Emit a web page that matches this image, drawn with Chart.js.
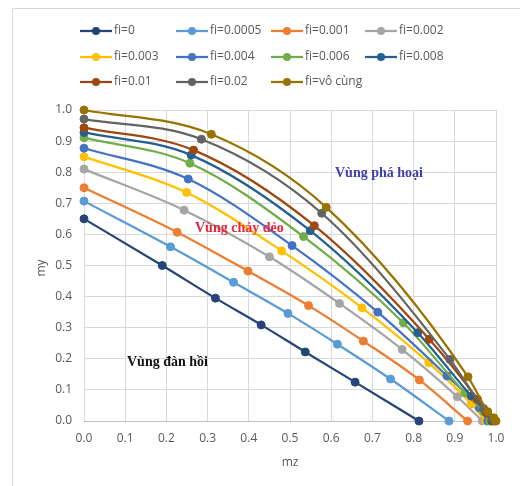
<!DOCTYPE html>
<html>
<head>
<meta charset="utf-8">
<script src="https://cdn.jsdelivr.net/npm/chart.js@4"></script>
<style>
  html, body { margin: 0; padding: 0; background: #fff; }
  #wrap { width: 520px; height: 486px; }
</style>
</head>
<body>
<div id="wrap"><canvas id="grafico" width="520" height="486"></canvas></div>
<script>
// datos
const series = ["fi=0", "fi=0.0005", "fi=0.001", "fi=0.002", "fi=0.003", "fi=0.004",
                "fi=0.006", "fi=0.008", "fi=0.01", "fi=0.02", "fi=vô cùng"];
const colores = ["#264478", "#5B9BD5", "#ED7D31", "#A5A5A5", "#FFC000", "#4472C4",
                 "#70AD47", "#255E91", "#9E480E", "#636363", "#997300"];

const mz = [
  [0, 0.19, 0.319, 0.43, 0.537, 0.658, 0.813],
  [0, 0.21, 0.363, 0.495, 0.615, 0.744, 0.886],
  [0, 0.226, 0.398, 0.545, 0.678, 0.814, 0.931],
  [0, 0.243, 0.45, 0.62, 0.772, 0.906, 0.967],
  [0, 0.249, 0.48, 0.675, 0.837, 0.94, 0.975],
  [0, 0.253, 0.505, 0.713, 0.881, 0.96, 0.98],
  [0, 0.257, 0.533, 0.775, 0.925, 0.97, 0.985],
  [0, 0.26, 0.549, 0.81, 0.94, 0.975, 0.99],
  [0, 0.266, 0.559, 0.838, 0.955, 0.977, 0.993],
  [0, 0.285, 0.577, 0.888, 0.97, 0.99, 0.997],
  [0, 0.309, 0.588, 0.932, 0.98, 0.995, 1.0]
];
const my = [
  [0.65, 0.50, 0.395, 0.309, 0.222, 0.125, 0],
  [0.707, 0.56, 0.446, 0.346, 0.247, 0.135, 0],
  [0.75, 0.607, 0.482, 0.371, 0.257, 0.132, 0],
  [0.81, 0.678, 0.528, 0.378, 0.23, 0.078, 0],
  [0.85, 0.735, 0.547, 0.364, 0.187, 0.055, 0],
  [0.877, 0.778, 0.564, 0.35, 0.145, 0.042, 0],
  [0.911, 0.829, 0.593, 0.316, 0.09, 0.03, 0],
  [0.928, 0.855, 0.612, 0.284, 0.08, 0.03, 0],
  [0.943, 0.871, 0.628, 0.263, 0.07, 0.026, 0],
  [0.971, 0.906, 0.668, 0.198, 0.04, 0.01, 0],
  [1.0, 0.922, 0.687, 0.142, 0.03, 0.01, 0]
];

const zonas = [
  { texto: "Vùng phá hoại", x: 335, y: 173, color: "#3F3FA8" },
  { texto: "Vùng chảy dẻo", x: 195, y: 228, color: "#E8283F" },
  { texto: "Vùng đàn hồi", x: 127, y: 362, color: "#111111" }
];

const fuente = "'Open Sans', 'Liberation Sans', sans-serif";
const gris = "#595959";

const datasets = series.map((nombre, i) => ({
  label: nombre,
  data: mz[i].map((v, k) => ({ x: v, y: my[i][k] })),
  borderColor: colores[i],
  backgroundColor: colores[i],
  pointBackgroundColor: colores[i],
  pointBorderColor: colores[i],
  borderWidth: 2.25,
  pointRadius: 4,
  pointBorderWidth: 1,
  cubicInterpolationMode: "monotone",
  clip: false,
  order: series.length - i
}));

// leyenda en rejilla y textos de zonas
const extras = {
  id: "extras",
  beforeDraw(chart) {
    const ctx = chart.ctx;
    ctx.save();
    ctx.fillStyle = "#fff";
    ctx.fillRect(0, 0, chart.width, chart.height);
    ctx.strokeStyle = "#D9D9D9";
    ctx.lineWidth = 1;
    ctx.beginPath();
    ctx.moveTo(12.5, 486);
    ctx.lineTo(12.5, 8.5);
    ctx.lineTo(520, 8.5);
    ctx.stroke();
    ctx.restore();
  },
  afterDraw(chart) {
    const ctx = chart.ctx;
    ctx.save();
    const colX = [80, 176, 271, 365];
    const filaY = [31, 57, 82];
    ctx.font = "12px " + fuente;
    ctx.textBaseline = "middle";
    series.forEach((nombre, i) => {
      const x = colX[i % 4];
      const y = filaY[Math.floor(i / 4)];
      ctx.strokeStyle = colores[i];
      ctx.lineWidth = 2.25;
      ctx.beginPath();
      ctx.moveTo(x, y);
      ctx.lineTo(x + 32, y);
      ctx.stroke();
      ctx.fillStyle = colores[i];
      ctx.beginPath();
      ctx.arc(x + 16, y, 4, 0, Math.PI * 2);
      ctx.fill();
      ctx.fillStyle = gris;
      ctx.fillText(nombre, x + 34, y);
    });

    ctx.font = "bold 14px 'Liberation Serif', 'DejaVu Serif', serif";
    zonas.forEach(z => {
      ctx.fillStyle = z.color;
      ctx.fillText(z.texto, z.x, z.y);
    });

    ctx.fillStyle = gris;
    ctx.font = "12px " + fuente;
    ctx.textAlign = "center";
    ctx.fillText("mz", 290, 463);
    ctx.translate(42, 268);
    ctx.rotate(-Math.PI / 2);
    ctx.fillText("my", 0, 0);
    ctx.restore();
  }
};

new Chart(document.getElementById("grafico"), {
  type: "line",
  data: { datasets: datasets },
  options: {
    responsive: false,
    animation: false,
    layout: { padding: { top: 110, right: 24, left: 0, bottom: 0 } },
    plugins: {
      legend: { display: false },
      tooltip: { enabled: false }
    },
    scales: {
      x: {
        type: "linear",
        min: 0,
        max: 1,
        afterFit: s => { s.height = 65; },
        grid: { color: "#D9D9D9", drawTicks: false },
        border: { color: "#BFBFBF" },
        ticks: {
          stepSize: 0.1,
          padding: 10,
          color: gris,
          font: { size: 12, family: fuente },
          callback: v => v.toFixed(1)
        }
      },
      y: {
        min: 0,
        max: 1,
        afterFit: s => { s.width = 84; },
        grid: { color: "#D9D9D9", drawTicks: false },
        border: { display: false },
        ticks: {
          stepSize: 0.1,
          padding: 12,
          color: gris,
          font: { size: 12, family: fuente },
          callback: v => v.toFixed(1)
        }
      }
    }
  },
  plugins: [extras]
});
</script>
</body>
</html>
